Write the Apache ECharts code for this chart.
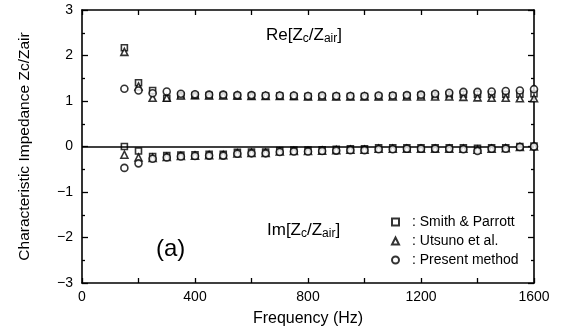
<!DOCTYPE html>
<html>
<head>
<meta charset="utf-8">
<script src="https://cdn.jsdelivr.net/npm/echarts@6/dist/echarts.min.js"></script>
<style>
  html, body { margin: 0; padding: 0; background: #fff; }
  #chart { width: 562px; height: 333px; }
</style>
</head>
<body>
<div id="chart"></div>
<script>
// Measurement frequencies (Hz)
const freqs = [150, 200, 250, 300, 350, 400, 450, 500, 550, 600,
               650, 700, 750, 800, 850, 900, 950, 1000, 1050, 1100,
               1150, 1200, 1250, 1300, 1350, 1400, 1450, 1500, 1550, 1600];

// Real part of Zc/Zair
const reSmith   = [2.17, 1.40, 1.23, 1.06, 1.12, 1.12, 1.12, 1.12, 1.11, 1.11,
                   1.11, 1.11, 1.10, 1.10, 1.10, 1.10, 1.10, 1.10, 1.10, 1.11,
                   1.11, 1.12, 1.13, 1.14, 1.15, 1.15, 1.15, 1.15, 1.15, 1.16];
const reUtsuno  = [2.08, 1.32, 1.07, 1.07, 1.12, 1.13, 1.12, 1.12, 1.12, 1.11,
                   1.11, 1.11, 1.11, 1.10, 1.10, 1.10, 1.10, 1.10, 1.10, 1.10,
                   1.10, 1.10, 1.10, 1.10, 1.09, 1.08, 1.07, 1.07, 1.06, 1.06];
const rePresent = [1.27, 1.23, 1.17, 1.21, 1.16, 1.15, 1.14, 1.14, 1.13, 1.13,
                   1.12, 1.12, 1.12, 1.11, 1.12, 1.11, 1.11, 1.11, 1.12, 1.12,
                   1.13, 1.14, 1.16, 1.18, 1.20, 1.20, 1.21, 1.22, 1.23, 1.26];

// Imaginary part of Zc/Zair
const imSmith   = [0.00, -0.10, -0.22, -0.20, -0.19, -0.18, -0.17, -0.17, -0.13, -0.12,
                   -0.12, -0.09, -0.08, -0.08, -0.07, -0.06, -0.05, -0.05, -0.03, -0.03,
                   -0.03, -0.03, -0.03, -0.03, -0.03, -0.04, -0.03, -0.03, 0.00, 0.01];
const imUtsuno  = [-0.18, -0.24, -0.25, -0.23, -0.21, -0.20, -0.19, -0.19, -0.15, -0.14,
                   -0.14, -0.11, -0.10, -0.10, -0.09, -0.08, -0.07, -0.07, -0.05, -0.05,
                   -0.05, -0.05, -0.05, -0.05, -0.05, -0.07, -0.05, -0.04, -0.01, 0.00];
const imPresent = [-0.47, -0.37, -0.27, -0.24, -0.22, -0.21, -0.20, -0.20, -0.16, -0.15,
                   -0.15, -0.12, -0.11, -0.11, -0.10, -0.09, -0.08, -0.08, -0.06, -0.06,
                   -0.05, -0.05, -0.05, -0.05, -0.06, -0.10, -0.05, -0.05, -0.01, 0.00];

const seriesNames = ['Smith & Parrott', 'Utsuno et al.', 'Present method'];

const FONT = 'Liberation Sans, Arial, Helvetica, sans-serif';

function points(re, im) {
  return freqs.map((f, i) => [f, re[i]]).concat(freqs.map((f, i) => [f, im[i]]));
}

const hollow = { color: '#fff', borderColor: '#000', borderWidth: 1.6 };

const axisLine = { show: true, onZero: false, lineStyle: { color: '#000', width: 1.6 } };
const tickStyle = { color: '#000', width: 1.3 };
const minus = v => String(v).replace('-', '\u2212');

const chart = echarts.init(document.getElementById('chart'), null, { renderer: 'canvas' });

const subRich = {
  m: { fontSize: 17, fontFamily: FONT, color: '#000' },
  s: { fontSize: 12, fontFamily: FONT, color: '#000', padding: [6, 0, 0, 0] }
};

chart.setOption({
  animation: false,
  backgroundColor: '#fff',
  textStyle: { fontFamily: FONT, color: '#000' },
  grid: { left: 82, right: 28, top: 10, bottom: 50 },
  xAxis: [
    {
      type: 'value', min: 0, max: 1600, interval: 200, position: 'bottom',
      axisLine: axisLine,
      axisTick: { inside: true, length: 5, lineStyle: tickStyle },
      axisLabel: { formatter: v => (v % 400 === 0 ? String(v) : ''), color: '#000', fontSize: 14, fontFamily: FONT, margin: 7 },
      splitLine: { show: false },
      name: 'Frequency (Hz)', nameLocation: 'middle', nameGap: 28,
      nameTextStyle: { color: '#000', fontSize: 16, fontFamily: FONT }
    },
    {
      type: 'value', min: 0, max: 1600, interval: 200, position: 'top',
      axisLine: axisLine,
      axisTick: { inside: true, length: 5, lineStyle: tickStyle },
      axisLabel: { show: false },
      splitLine: { show: false }
    }
  ],
  yAxis: [
    {
      type: 'value', min: -3, max: 3, interval: 1, position: 'left',
      axisLine: axisLine,
      axisTick: { inside: true, length: 6, lineStyle: tickStyle },
      minorTick: { show: true, splitNumber: 2, length: 3, lineStyle: tickStyle },
      axisLabel: { formatter: minus, color: '#000', fontSize: 14, fontFamily: FONT, margin: 9 },
      splitLine: { show: false },
      name: 'Characteristic Impedance Zc/Zair', nameLocation: 'middle', nameGap: 49, nameRotate: 90,
      nameTextStyle: { color: '#000', fontSize: 15.5, fontFamily: FONT }
    },
    {
      type: 'value', min: -3, max: 3, interval: 1, position: 'right',
      axisLine: axisLine,
      axisTick: { inside: true, length: 6, lineStyle: tickStyle },
      minorTick: { show: true, splitNumber: 2, length: 3, lineStyle: tickStyle },
      axisLabel: { show: false },
      splitLine: { show: false }
    }
  ],
  legend: {
    orient: 'vertical', left: 386, top: 210, itemGap: 5,
    itemWidth: 7, itemHeight: 7,
    data: seriesNames,
    formatter: name => ': ' + name,
    textStyle: { color: '#000', fontSize: 14, fontFamily: FONT, padding: [0, 0, 0, 8] }
  },
  series: [
    {
      name: seriesNames[0], type: 'scatter', symbol: 'rect', symbolSize: 6,
      itemStyle: hollow, data: points(reSmith, imSmith), z: 3,
      markLine: {
        silent: true, symbol: 'none', label: { show: false },
        lineStyle: { color: '#000', width: 1.6, type: 'solid' },
        data: [{ yAxis: 0 }]
      }
    },
    {
      name: seriesNames[1], type: 'scatter', symbol: 'triangle', symbolSize: 7,
      itemStyle: hollow, data: points(reUtsuno, imUtsuno), z: 4
    },
    {
      name: seriesNames[2], type: 'scatter', symbol: 'circle', symbolSize: 7,
      itemStyle: hollow, data: points(rePresent, imPresent), z: 5
    }
  ],
  graphic: [
    {
      type: 'text', left: 266, top: 27,
      style: { text: '{m|Re[Z}{s|c}{m|/Z}{s|air}{m|]}', rich: subRich }
    },
    {
      type: 'text', left: 267, top: 222,
      style: { text: '{m|Im[Z}{s|c}{m|/Z}{s|air}{m|]}', rich: subRich }
    },
    {
      type: 'text', left: 156, top: 237,
      style: { text: '(a)', fontSize: 24, fontFamily: FONT, fill: '#000' }
    }
  ]
});
</script>
</body>
</html>
